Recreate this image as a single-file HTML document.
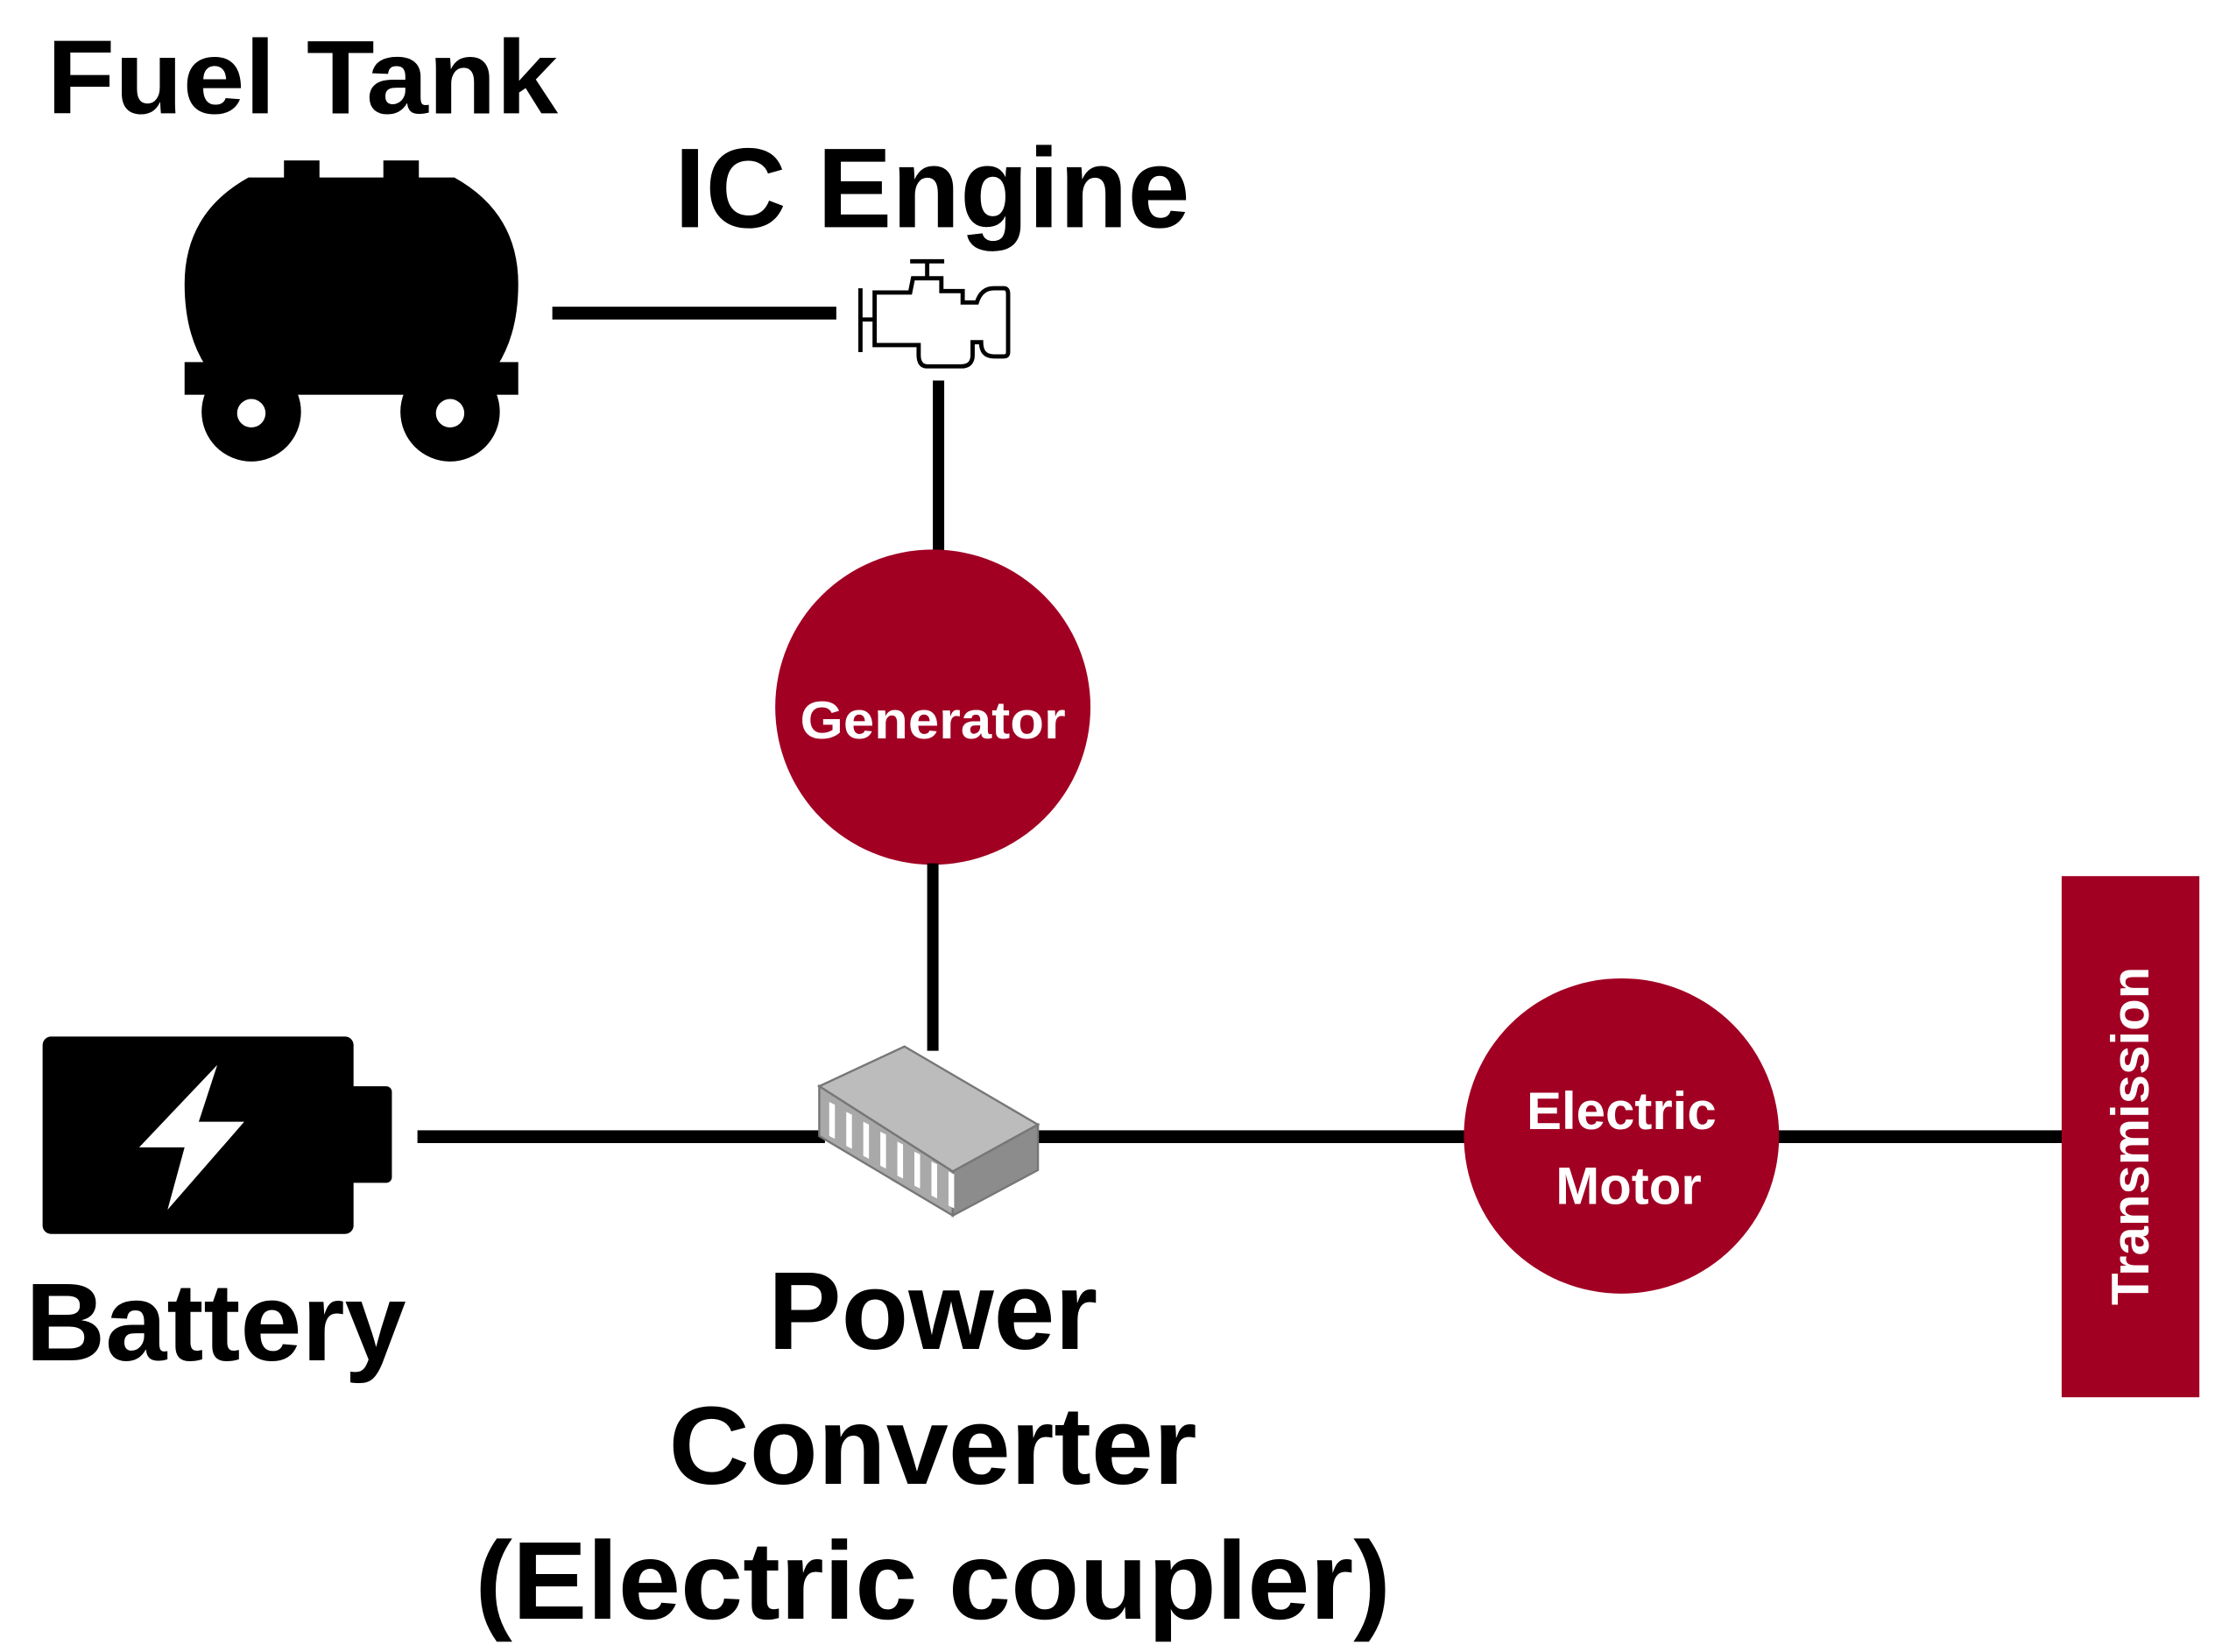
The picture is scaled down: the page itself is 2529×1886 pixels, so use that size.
<!DOCTYPE html>
<html><head><meta charset="utf-8"><style>
html,body{margin:0;padding:0;background:#fff;}
svg{display:block;}
text{font-family:"Liberation Sans",Arial,sans-serif;font-weight:bold;}
</style></head><body>
<svg width="2529" height="1886" viewBox="0 0 1560 1163.4" preserveAspectRatio="none" xmlns="http://www.w3.org/2000/svg">
<rect width="1560" height="1164" fill="#fff"/>
<!-- Fuel tank -->
<text x="33" y="80" font-size="74" fill="#000" textLength="360" lengthAdjust="spacingAndGlyphs">Fuel Tank</text>
<rect x="200" y="113" width="25" height="16" fill="#000"/>
<rect x="270" y="113" width="25" height="16" fill="#000"/>
<path d="M175,125 L320,125 Q365,150 365,200 Q365,235 350,258 L145,258 Q130,235 130,200 Q130,150 175,125 Z" fill="#000"/>
<rect x="130" y="255" width="235" height="23" fill="#000"/>
<circle cx="177" cy="290" r="35" fill="#000"/>
<circle cx="317" cy="290" r="35" fill="#000"/>
<circle cx="177" cy="291" r="10" fill="#fff"/>
<circle cx="317" cy="291" r="10" fill="#fff"/>
<!-- tank-engine line -->
<rect x="389" y="216" width="200" height="9" fill="#000"/>
<!-- IC engine -->
<text x="475" y="160" font-size="80" fill="#000" textLength="363" lengthAdjust="spacingAndGlyphs">IC Engine</text>
<g fill="none" stroke="#000" stroke-width="3">
<path d="M641,184 H665 M653,184 V196 M643,196 H663 V205 H678 V213 H688 Q691,203 700,203 H707 Q710,203 710,207 V248 Q710,251 707,251 H700 Q691,251 691,241 H685 V250 Q685,258 677,258 H653 Q647,258 647,250 V243 H616 V206 H641 Z"/>
<path d="M606,203 V248 M606,225 H616"/>
</g>
<!-- engine-generator line -->
<rect x="657" y="268" width="8" height="121" fill="#000"/>
<!-- generator -->
<circle cx="657" cy="498" r="111" fill="#A10023"/>
<text x="657" y="520" font-size="37" fill="#fff" text-anchor="middle" textLength="187" lengthAdjust="spacingAndGlyphs">Generator</text>
<rect x="653" y="608" width="8" height="132" fill="#000"/>
<!-- lines -->
<rect x="294" y="796" width="287" height="9" fill="#000"/>
<rect x="730" y="796" width="304" height="9" fill="#000"/>
<rect x="1249" y="796" width="205" height="9" fill="#000"/>
<!-- converter -->
<polygon points="577,765 637,737 731,792 671,825" fill="#bcbcbc" stroke="#777" stroke-width="1.5"/>
<polygon points="577,765 671,825 671,856 577,800" fill="#a9a9a9" stroke="#777" stroke-width="1.5"/>
<polygon points="671,825 731,792 731,824 671,856" fill="#8c8c8c" stroke="#777" stroke-width="1.5"/>
<g fill="#fff">
<polygon points="584,776 588,778 588,802 584,800"/>
<polygon points="596,783 600,785 600,809 596,807"/>
<polygon points="608,790 612,792 612,816 608,814"/>
<polygon points="620,797 624,799 624,823 620,821"/>
<polygon points="632,804 636,806 636,830 632,828"/>
<polygon points="644,811 648,813 648,837 644,835"/>
<polygon points="656,818 660,820 660,844 656,842"/>
<polygon points="668,825 672,827 672,851 668,849"/>
</g>
<!-- battery -->
<rect x="30" y="730" width="219" height="139" rx="6" fill="#000"/>
<rect x="240" y="765" width="36" height="68" rx="4" fill="#000"/>
<polygon points="153,750 98,808 130,808 118,852 172,790 140,790" fill="#fff"/>
<text x="18" y="958" font-size="78" fill="#000" textLength="268" lengthAdjust="spacingAndGlyphs">Battery</text>
<!-- power converter label -->
<text x="657" y="950" font-size="78" fill="#000" text-anchor="middle" textLength="232" lengthAdjust="spacingAndGlyphs">Power</text>
<text x="657" y="1045" font-size="78" fill="#000" text-anchor="middle" textLength="372" lengthAdjust="spacingAndGlyphs">Converter</text>
<text x="657" y="1140" font-size="78" fill="#000" text-anchor="middle" textLength="645" lengthAdjust="spacingAndGlyphs">(Electric coupler)</text>
<!-- motor -->
<circle cx="1142" cy="800" r="111" fill="#A10023"/>
<text x="1142" y="795" font-size="37" fill="#fff" text-anchor="middle">Electric</text>
<text x="1147" y="848" font-size="37" fill="#fff" text-anchor="middle">Motor</text>
<!-- transmission -->
<rect x="1452" y="617" width="97" height="367" fill="#A10023"/>
<text transform="translate(1513,800) rotate(-90)" font-size="37" fill="#fff" text-anchor="middle">Transmission</text>
</svg>
</body></html>
